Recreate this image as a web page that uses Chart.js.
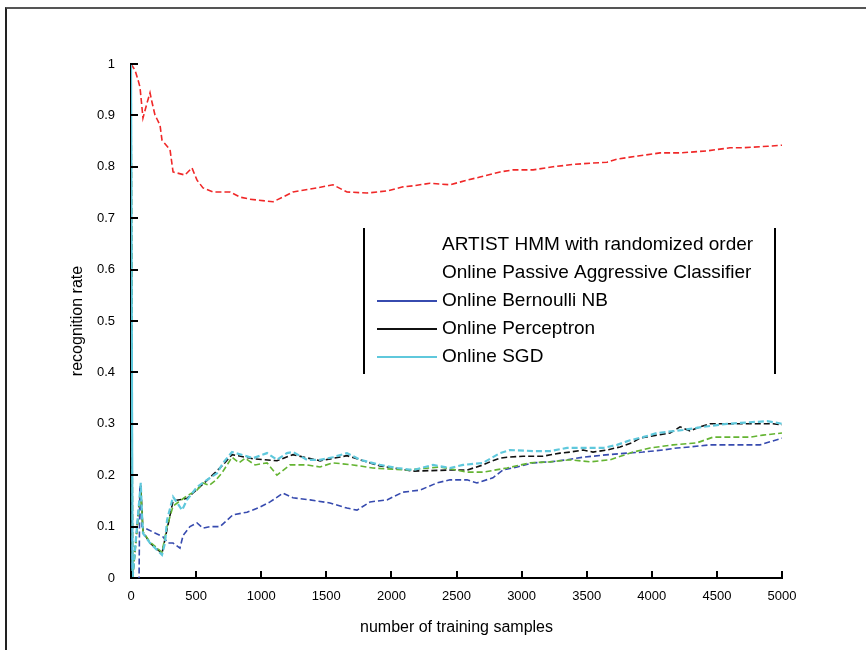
<!DOCTYPE html>
<html lang="en">
<head>
<meta charset="UTF-8">
<title>Recognition rate vs number of training samples</title>
<script src="https://cdn.jsdelivr.net/npm/chart.js@4"></script>
<style>
  body { margin: 0; background: #fff; }
  #wrap { position: relative; width: 866px; height: 650px; }
  #frame { position: absolute; left: 5px; top: 7px; right: 0; bottom: 0;
           border-top: 2px solid #555; border-left: 2px solid #222; pointer-events: none; }
</style>
</head>
<body>
<div id="wrap">
  <canvas id="chart" width="866" height="650"></canvas>
  <div id="frame"></div>
</div>
<script>
// axis ticks
const xTicks = [0, 500, 1000, 1500, 2000, 2500, 3000, 3500, 4000, 4500, 5000];
const yTicks = [0, 0.1, 0.2, 0.3, 0.4, 0.5, 0.6, 0.7, 0.8, 0.9, 1];
const yTickLabels = ['0', '0.1', '0.2', '0.3', '0.4', '0.5', '0.6', '0.7', '0.8', '0.9', '1'];

const seriesNames = [
    'ARTIST HMM with randomized order',
    'Online Passive Aggressive Classifier',
    'Online Bernoulli NB',
    'Online Perceptron',
    'Online SGD'
];

// ARTIST HMM (red)
const hmmX = [0, 31, 54, 69, 92, 123, 146, 161, 184, 223, 238, 300, 323, 415, 468, 507, 553, 630, 760, 837,
              914, 1091, 1167, 1244, 1429, 1551, 1659, 1813, 1966, 2089, 2166, 2296, 2450, 2581, 2680, 2773, 2834, 2934, 3088, 3241,
              3410, 3656, 3733, 3894, 4063, 4217, 4424, 4601, 4700, 4892, 5000];
const hmmY = [1.0, 0.988, 0.969, 0.955, 0.895, 0.924, 0.944, 0.926, 0.901, 0.881, 0.852, 0.833, 0.790, 0.784, 0.798, 0.774, 0.759, 0.751, 0.751, 0.741,
              0.737, 0.732, 0.741, 0.751, 0.759, 0.765, 0.751, 0.749, 0.753, 0.761, 0.763, 0.768, 0.765, 0.774, 0.780, 0.786, 0.790, 0.794, 0.794, 0.800,
              0.805, 0.809, 0.815, 0.821, 0.827, 0.827, 0.831, 0.837, 0.837, 0.840, 0.842];

// Online Passive Aggressive (green)
const paX = [0, 12, 75, 92, 146, 238, 277, 323, 430, 507, 553, 600, 650, 700, 776, 830, 876, 953, 1045, 1121,
             1221, 1352, 1452, 1551, 1705, 1858, 2120, 2373, 2504, 2581, 2704, 2888, 3065, 3218, 3372, 3525, 3679, 3856, 3986, 4163,
             4347, 4470, 4624, 4754, 4854, 5000];
const paY = [1.0, 0.0, 0.17, 0.09, 0.07, 0.05, 0.10, 0.14, 0.16, 0.171, 0.185, 0.18, 0.19, 0.205, 0.235, 0.224, 0.233, 0.220, 0.224, 0.200,
             0.220, 0.220, 0.216, 0.224, 0.220, 0.214, 0.210, 0.216, 0.210, 0.206, 0.206, 0.214, 0.224, 0.226, 0.230, 0.226, 0.230, 0.245, 0.253, 0.259,
             0.263, 0.274, 0.274, 0.274, 0.278, 0.282];

// Online Bernoulli NB (blue)
const nbX = [0, 8, 62, 68, 84, 246, 284, 323, 376, 400, 453, 507, 553, 607, 684, 783, 891, 991, 1068, 1167,
             1244, 1375, 1528, 1659, 1736, 1836, 1966, 2089, 2220, 2350, 2450, 2581, 2657, 2780, 2857, 2965, 3088, 3218, 3349, 3472,
             3625, 3810, 3932, 4086, 4194, 4293, 4447, 4677, 4831, 4908, 5000];
const nbY = [0.1, 0.0, 0.0, 0.181, 0.1, 0.08, 0.068, 0.068, 0.058, 0.083, 0.1, 0.107, 0.097, 0.1, 0.1, 0.123, 0.128, 0.138, 0.148, 0.165,
             0.156, 0.152, 0.146, 0.136, 0.132, 0.148, 0.152, 0.167, 0.171, 0.185, 0.191, 0.191, 0.185, 0.195, 0.210, 0.216, 0.224, 0.226, 0.230, 0.235,
             0.239, 0.243, 0.245, 0.249, 0.253, 0.255, 0.259, 0.259, 0.259, 0.265, 0.272];

// Online Perceptron (black)
const percX = [0, 12, 75, 92, 146, 238, 323, 430, 584, 707, 776, 937, 1121, 1244, 1452, 1659, 1912, 2166, 2450, 2581,
               2704, 2757, 2834, 2888, 3011, 3164, 3295, 3372, 3472, 3548, 3656, 3756, 3848, 3909, 4040, 4140, 4217, 4293, 4370, 4447,
               4931, 5000];
const percY = [1.0, 0.0, 0.18, 0.09, 0.068, 0.048, 0.15, 0.155, 0.19, 0.22, 0.24, 0.232, 0.228, 0.24, 0.228, 0.238, 0.218, 0.208, 0.210, 0.210,
               0.220, 0.226, 0.233, 0.235, 0.237, 0.237, 0.243, 0.245, 0.249, 0.245, 0.249, 0.255, 0.263, 0.272, 0.278, 0.282, 0.294, 0.286, 0.294, 0.300,
               0.300, 0.298];

// Online SGD (cyan)
const sgdX = [0, 12, 75, 84, 92, 146, 238, 261, 277, 323, 392, 430, 507, 584, 661, 707, 776, 860, 937, 1045,
              1121, 1198, 1244, 1352, 1452, 1551, 1659, 1759, 1912, 2043, 2166, 2319, 2450, 2550, 2704, 2834, 2911, 3088, 3218, 3349,
              3525, 3625, 3733, 3833, 3932, 4040, 4240, 4393, 4578, 4754, 4885, 4962, 5000];
const sgdY = [1.0, 0.0, 0.185, 0.126, 0.087, 0.068, 0.045, 0.068, 0.113, 0.158, 0.132, 0.152, 0.177, 0.191, 0.204, 0.224, 0.245, 0.239, 0.233, 0.243,
              0.230, 0.243, 0.245, 0.230, 0.230, 0.235, 0.243, 0.230, 0.220, 0.214, 0.210, 0.220, 0.214, 0.220, 0.224, 0.243, 0.249, 0.247, 0.247, 0.253,
              0.253, 0.253, 0.259, 0.268, 0.274, 0.282, 0.288, 0.294, 0.300, 0.303, 0.305, 0.302, 0.300];

const colors = ['rgb(240,40,40)', 'rgb(100,180,50)', 'rgb(55,75,175)', '#111', 'rgb(95,200,220)'];
const FONT = '"Liberation Sans", Arial, Helvetica, sans-serif';

function zip(xs, ys) {
    return xs.map((x, i) => ({ x: x, y: ys[i] }));
}

const allSeries = [[hmmX, hmmY], [paX, paY], [nbX, nbY], [percX, percY], [sgdX, sgdY]];
// lower order is drawn on top, SGD covers the others at the start
const drawOrder = [1, 2, 3, 4, 0];

const datasets = allSeries.map((s, i) => ({
    label: seriesNames[i],
    data: zip(s[0], s[1]),
    borderColor: colors[i],
    borderWidth: 1.6,
    borderDash: [6, 3],
    pointRadius: 0,
    tension: 0,
    fill: false,
    order: drawOrder[i]
}));
// the first drop of SGD runs along the y axis as a solid line
datasets[4].borderWidth = 2.2;
datasets[4].segment = { borderDash: c => (c.p0DataIndex === 0 ? [] : [6, 3]) };

// MATLAB style tick marks pointing into the plot
const innerTicks = {
    id: 'innerTicks',
    afterDatasetsDraw(chart) {
        const { ctx, chartArea, scales } = chart;
        ctx.save();
        ctx.strokeStyle = '#000';
        ctx.lineWidth = 2;
        xTicks.forEach(v => {
            const px = Math.round(scales.x.getPixelForValue(v));
            ctx.beginPath();
            ctx.moveTo(px, chartArea.bottom);
            ctx.lineTo(px, chartArea.bottom - 7);
            ctx.stroke();
        });
        yTicks.forEach(v => {
            const py = Math.round(scales.y.getPixelForValue(v));
            ctx.beginPath();
            ctx.moveTo(chartArea.left, py);
            ctx.lineTo(chartArea.left + 7, py);
            ctx.stroke();
        });
        ctx.restore();
    }
};

// legend box in the middle of the plot, only side rules
const boxLegend = {
    id: 'boxLegend',
    afterDraw(chart) {
        const ctx = chart.ctx;
        const left = 364, right = 775, top = 228, bottom = 374;
        const rowY = 245, rowH = 28;
        ctx.save();
        ctx.strokeStyle = '#000';
        ctx.lineWidth = 2;
        ctx.beginPath();
        ctx.moveTo(left, top); ctx.lineTo(left, bottom);
        ctx.moveTo(right, top); ctx.lineTo(right, bottom);
        ctx.stroke();
        ctx.font = '19px ' + FONT;
        ctx.textBaseline = 'middle';
        ctx.fillStyle = '#000';
        chart.data.datasets.forEach((ds, i) => {
            const y = rowY + i * rowH;
            if (i >= 2) {
                ctx.strokeStyle = ds.borderColor;
                ctx.lineWidth = 2;
                ctx.beginPath();
                ctx.moveTo(377, y);
                ctx.lineTo(437, y);
                ctx.stroke();
            }
            ctx.fillText(ds.label, 442, y);
        });
        ctx.restore();
    }
};

new Chart(document.getElementById('chart'), {
    type: 'line',
    data: { datasets: datasets },
    options: {
        responsive: false,
        animation: false,
        layout: { padding: { left: 0, top: 64, right: 84, bottom: 0 } },
        plugins: {
            legend: { display: false },
            tooltip: { enabled: false }
        },
        scales: {
            x: {
                type: 'linear',
                min: 0,
                max: 5000,
                afterBuildTicks: s => { s.ticks = xTicks.map(v => ({ value: v })); },
                afterFit: s => { s.height = 72; },
                grid: { display: false, drawTicks: false },
                border: { display: true, color: '#000', width: 2 },
                ticks: {
                    color: '#000',
                    font: { family: FONT, size: 13 },
                    padding: 11,
                    maxRotation: 0,
                    autoSkip: false,
                    callback: v => String(v)
                },
                title: {
                    display: true,
                    text: 'number of training samples',
                    color: '#000',
                    font: { family: FONT, size: 16 },
                    padding: { top: 2, bottom: 13 }
                }
            },
            y: {
                type: 'linear',
                min: 0,
                max: 1,
                afterBuildTicks: s => { s.ticks = yTicks.map(v => ({ value: v })); },
                afterFit: s => { s.width = 131; },
                grid: { display: false, drawTicks: false },
                border: { display: true, color: '#000', width: 2 },
                ticks: {
                    color: '#000',
                    font: { family: FONT, size: 13 },
                    padding: 16,
                    autoSkip: false,
                    callback: (v) => yTickLabels[yTicks.indexOf(Math.round(v * 10) / 10)]
                },
                title: {
                    display: true,
                    text: 'recognition rate',
                    color: '#000',
                    font: { family: FONT, size: 16 },
                    padding: { top: 68, bottom: 0 }
                }
            }
        }
    },
    plugins: [innerTicks, boxLegend]
});
</script>
</body>
</html>
